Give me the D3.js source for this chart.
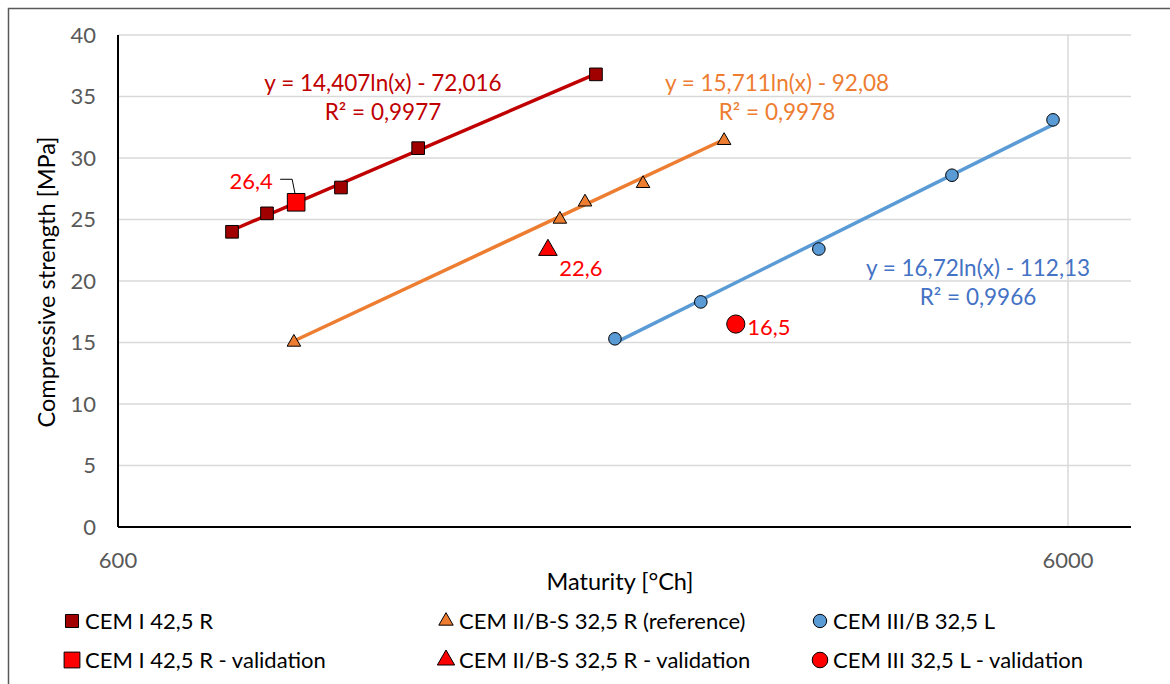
<!DOCTYPE html>
<html><head><meta charset="utf-8">
<script src="https://cdn.jsdelivr.net/npm/d3@7"></script>
<style>
html,body{margin:0;padding:0;background:#fff;}
svg{display:block;font-family:Lato,"Open Sans",sans-serif;}
</style></head>
<body><svg id="c" width="1170" height="684"></svg>
<script>
// ---- data ----
const cem1X = [791, 861, 1030, 1242, 1911];
const cem1Y = [24.0, 25.5, 27.6, 30.8, 36.8];
const cem2X = [919, 1751, 1861, 2142, 2607];
const cem2Y = [15.1, 25.1, 26.5, 28.0, 31.5];
const cem3X = [2001, 2464, 3280, 4529, 5786];
const cem3Y = [15.3, 18.3, 22.6, 28.6, 33.1];
const valX = [924, 1701, 2682];
const valY = [26.4, 22.6, 16.5];
const valLabels = ["26,4", "22,6", "16,5"];
const trendA = [14.407, 15.711, 16.72];
const trendB = [-72.016, -92.08, -112.13];
const eqLabels = ["y = 14,407ln(x) - 72,016", "y = 15,711ln(x) - 92,08", "y = 16,72ln(x) - 112,13"];
const r2Labels = ["R² = 0,9977", "R² = 0,9978", "R² = 0,9966"];
const yTicks = [0, 5, 10, 15, 20, 25, 30, 35, 40];
const xTicks = [600, 6000];
const legendLabels = ["CEM I 42,5 R", "CEM II/B-S 32,5 R (reference)", "CEM III/B 32,5 L",
  "CEM I 42,5 R - validation", "CEM II/B-S 32,5 R - validation", "CEM III 32,5 L - validation"];

// ---- layout ----
const svg = d3.select("#c");
const L = 118, R = 1131, T = 35, B = 527;
const xMax = 6000 * Math.pow(10, (R - 1068) / (1068 - L));
const x = d3.scaleLog().domain([600, xMax]).range([L, R]);
const y = d3.scaleLinear().domain([0, 40]).range([B, T]);

const darkRed = "#A00000", trendRed = "#C00000", orange = "#ED7D31", blue = "#5B9BD5", valRed = "#FF0000";
const eqColors = ["#C00000", "#ED7D31", "#4472C4"];

// outer frame
svg.append("rect").attr("x", 8.5).attr("y", 8.5).attr("width", 1170).attr("height", 690)
  .attr("fill", "none").attr("stroke", "#595959").attr("stroke-width", 1.5);

// grid
svg.append("g").selectAll("line").data(yTicks.filter(d => d > 0)).join("line")
  .attr("x1", L).attr("x2", R).attr("y1", d => y(d)).attr("y2", d => y(d))
  .attr("stroke", "#D9D9D9").attr("stroke-width", 1.5);
svg.append("g").selectAll("line").data(xTicks.filter(d => d > 600)).join("line")
  .attr("x1", d => x(d)).attr("x2", d => x(d)).attr("y1", T).attr("y2", B)
  .attr("stroke", "#D9D9D9").attr("stroke-width", 1.5);

// axes lines
svg.append("line").attr("x1", L).attr("x2", L).attr("y1", T).attr("y2", B).attr("stroke", "#000").attr("stroke-width", 2);
svg.append("line").attr("x1", L).attr("x2", R).attr("y1", B).attr("y2", B).attr("stroke", "#000").attr("stroke-width", 2);

// tick labels
svg.append("g").selectAll("text").data(yTicks).join("text")
  .attr("x", 96).attr("y", d => y(d)).attr("dy", "0.35em").attr("text-anchor", "end")
  .attr("fill", "#595959").attr("font-size", 22).text(d => d);
svg.append("g").selectAll("text").data(xTicks).join("text")
  .attr("x", d => x(d)).attr("y", 560).attr("dy", "0.35em").attr("text-anchor", "middle")
  .attr("fill", "#595959").attr("font-size", 22).text(d => d);

// axis titles
svg.append("text").attr("transform", "translate(47,282) rotate(-90)").attr("text-anchor", "middle")
  .attr("dy", "0.35em").attr("font-size", 23.5).attr("fill", "#000").text("Compressive strength [MPa]");
svg.append("text").attr("x", 620).attr("y", 582).attr("text-anchor", "middle").attr("dy", "0.35em")
  .attr("font-size", 23.5).attr("fill", "#000").text("Maturity [°Ch]");

// trendlines
const series = [[cem1X, cem1Y, trendRed], [cem2X, cem2Y, orange], [cem3X, cem3Y, blue]];
series.forEach((s, i) => {
  const xs = s[0];
  const x0 = d3.min(xs), x1 = d3.max(xs);
  const pts = [x0, x1].map(v => [x(v), y(trendA[i] * Math.log(v) + trendB[i])]);
  svg.append("path").attr("d", d3.line()(pts)).attr("stroke", s[2]).attr("stroke-width", 3.5).attr("fill", "none");
});

// markers
const sq = d3.symbol().type(d3.symbolSquare);
const tri = d3.symbol().type(d3.symbolTriangle);
const cir = d3.symbol().type(d3.symbolCircle);
function drawPts(xs, ys, gen, size, fill, dy) {
  svg.append("g").selectAll("path").data(xs.map((v, i) => [v, ys[i]])).join("path")
    .attr("transform", d => `translate(${x(d[0])},${y(d[1]) + (dy || 0)})`)
    .attr("d", gen.size(size)()).attr("fill", fill).attr("stroke", "#000").attr("stroke-width", 1);
}
drawPts(cem1X, cem1Y, sq, 160, darkRed);
drawPts(cem2X, cem2Y, tri, 80, orange, 1);
drawPts(cem3X, cem3Y, cir, 125, blue);

// validation leader line for 26,4
svg.append("path").attr("d", `M${x(valX[0]) - 16},${y(valY[0]) - 23}H${x(valX[0]) - 4}L${x(valX[0])},${y(valY[0]) - 3}`)
  .attr("stroke", "#000").attr("fill", "none").attr("stroke-width", 1);

drawPts([valX[0]], [valY[0]], sq, 310, valRed);
drawPts([valX[1]], [valY[1]], tri, 150, valRed, 1);
drawPts([valX[2]], [valY[2]], cir, 260, valRed);

// validation labels
const valLabPos = [[-45, -21], [33, 19], [33, 3]];
svg.append("g").selectAll("text").data(valLabels).join("text")
  .attr("x", (d, i) => x(valX[i]) + valLabPos[i][0]).attr("y", (d, i) => y(valY[i]) + valLabPos[i][1])
  .attr("dy", "0.35em").attr("text-anchor", "middle").attr("fill", valRed).attr("font-size", 22).text(d => d);

// equations
const eqPos = [[383, 83], [777, 83], [978, 268]];
eqLabels.forEach((t, i) => {
  svg.append("text").attr("x", eqPos[i][0]).attr("y", eqPos[i][1]).attr("dy", "0.35em").attr("text-anchor", "middle")
    .attr("fill", eqColors[i]).attr("font-size", 22.5).text(t);
  svg.append("text").attr("x", eqPos[i][0]).attr("y", eqPos[i][1] + 29).attr("dy", "0.35em").attr("text-anchor", "middle")
    .attr("fill", eqColors[i]).attr("font-size", 22.5).text(r2Labels[i]);
});

// legend
const legCols = [72, 446, 820];
const legRows = [621, 660];
const legSym = [[sq, 170, darkRed], [tri, 90, orange], [cir, 140, blue], [sq, 250, valRed], [tri, 130, valRed], [cir, 190, valRed]];
legendLabels.forEach((t, i) => {
  const cx = legCols[i % 3], cy = legRows[Math.floor(i / 3)];
  svg.append("path").attr("transform", `translate(${cx},${cy})`).attr("d", legSym[i][0].size(legSym[i][1])())
    .attr("fill", legSym[i][2]).attr("stroke", "#000").attr("stroke-width", 1);
  svg.append("text").attr("x", cx + 13).attr("y", cy).attr("dy", "0.35em").attr("font-size", 22).attr("fill", "#000").text(t);
});
</script></body></html>
